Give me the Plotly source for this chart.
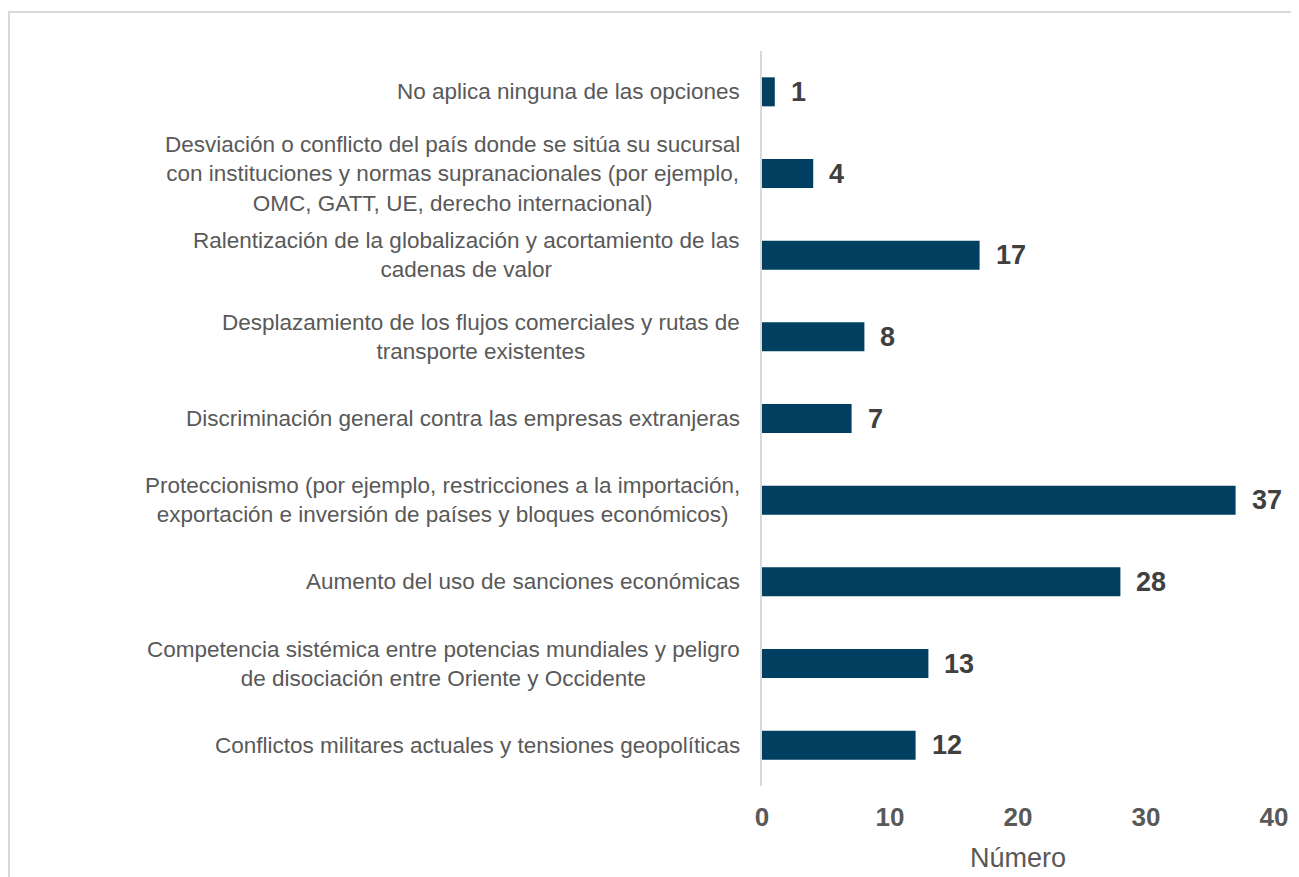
import plotly.graph_objects as go

categories = [
    "No aplica ninguna de las opciones",
    "Desviación o conflicto del país donde se sitúa su sucursal<br>con instituciones y normas supranacionales (por ejemplo,<br>OMC, GATT, UE, derecho internacional)",
    "Ralentización de la globalización y acortamiento de las<br>cadenas de valor",
    "Desplazamiento de los flujos comerciales y rutas de<br>transporte existentes",
    "Discriminación general contra las empresas extranjeras",
    "Proteccionismo (por ejemplo, restricciones a la importación,<br>exportación e inversión de países y bloques económicos)",
    "Aumento del uso de sanciones económicas",
    "Competencia sistémica entre potencias mundiales y peligro<br>de disociación entre Oriente y Occidente",
    "Conflictos militares actuales y tensiones geopolíticas",
]
values = [1, 4, 17, 8, 7, 37, 28, 13, 12]
x_ticks = [0, 10, 20, 30, 40]
x_title = "Número"

FONT = "Liberation Sans, Arial, sans-serif"
BAR = "#003f60"
GREY = "#595959"

# the page body has an 8px margin, so the figure is 8px smaller each way
W, H = 1291, 869
ML, MR, MT, MB = 754, 25, 43, 91
PW, PH = W - ML - MR, H - MT - MB

fig = go.Figure()
fig.add_trace(go.Bar(
    x=values, y=categories, orientation="h",
    marker=dict(color=BAR, line=dict(width=0)),
    hoverinfo="x+y",
))

annotations = []
# category labels: block right-aligned next to the axis, lines centred
for cat in categories:
    annotations.append(dict(
        x=0, y=cat, xref="x", yref="y", text=cat, showarrow=False,
        xanchor="right", yanchor="middle", xshift=-20, align="center",
        font=dict(family=FONT, size=22.5, color=GREY),
    ))

# value labels
for cat, v in zip(categories, values):
    annotations.append(dict(
        x=v, y=cat, xref="x", yref="y", text=f"<b>{v}</b>", showarrow=False,
        xanchor="left", yanchor="middle", xshift=14,
        font=dict(family=FONT, size=27, color="#404040"),
    ))

# axis title
annotations.append(dict(
    x=0.5, y=-(850 - (MT + PH)) / PH, xref="paper", yref="paper",
    text=x_title, showarrow=False, xanchor="center", yanchor="middle",
    font=dict(family=FONT, size=27, color=GREY),
))

fig.update_layout(
    width=W, height=H,
    margin=dict(l=ML, r=MR, t=MT, b=MB),
    paper_bgcolor="white", plot_bgcolor="white",
    showlegend=False, bargap=0.645,
    font=dict(family=FONT, color=GREY),
    annotations=annotations,
    shapes=[dict(
        type="rect", xref="paper", yref="paper",
        x0=(1 - ML) / PW, x1=1.5, y0=-0.5, y1=1 + (MT - 4) / PH,
        line=dict(color="#d9d9d9", width=2), fillcolor="rgba(0,0,0,0)",
        layer="below",
    )],
)
fig.update_xaxes(
    range=[0, 40], tickvals=x_ticks, showgrid=False, zeroline=False,
    showline=False, ticks="", ticklabelstandoff=13,
    tickfont=dict(family=FONT, size=26, color=GREY, weight="bold"),
)
fig.update_yaxes(
    autorange="reversed", showticklabels=False, showgrid=False,
    showline=True, linecolor="#d9d9d9", linewidth=2, ticks="", zeroline=False,
)

fig.write_html("out.html")
